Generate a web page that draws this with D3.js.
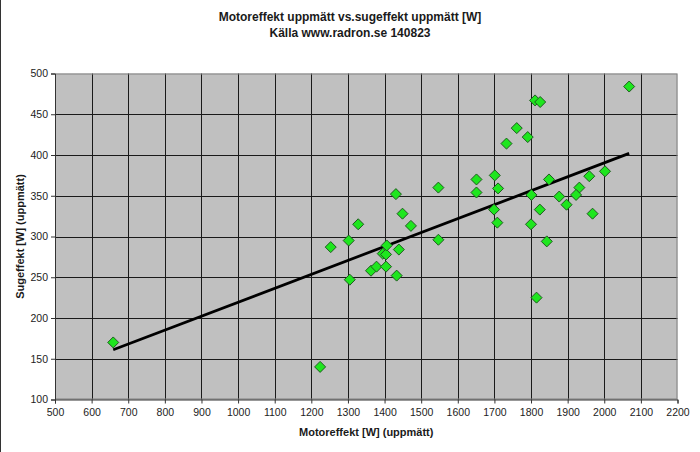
<!DOCTYPE html>
<html>
<head>
<meta charset="utf-8">
<script src="https://cdn.jsdelivr.net/npm/d3@7"></script>
<style>
	body { margin: 0; background: #fff; }
	text { font-family: "Liberation Sans", Arial, sans-serif; }
	.chart-title { font-size: 12px; font-weight: bold; fill: #1a1a1a; }
	.axis-title { font-size: 11px; font-weight: bold; fill: #1a1a1a; }
	.tick-label { font-size: 10.5px; fill: #222; }
</style>
</head>
<body>
<svg id="chart" width="700" height="452"></svg>
<script>

//Motor power measured [W]
var motorW = [659, 1224, 1253, 1302, 1328, 1305, 1363, 1378, 1404, 1433, 1395, 1404, 1406, 1439,
	1449, 1472, 1431, 1547, 1547, 1651, 1651, 1811, 1825, 2068, 1761, 1733, 1791, 2002, 1959,
	1849, 1701, 1932, 1710, 1801, 1877, 1923, 1897, 1968, 1699, 1708, 1824, 1800, 1843, 1815];
//Suction power measured [W]
var sugW = [170, 140, 287, 295, 315, 247, 258, 263, 263, 252, 279, 278, 289, 284,
	328, 313, 352, 360, 296, 370, 354, 467, 465, 484, 433, 414, 422, 380, 374,
	370, 375, 360, 359, 351, 349, 351, 339, 328, 333, 317, 333, 315, 294, 225];

//Trend line end points
var trendX = [659, 2068],
	trendY = [161, 402];

var xTicks = d3.range(500, 2201, 100),
	yTicks = d3.range(100, 501, 50);

var svg = d3.select("#chart");

var plotLeft = 55, plotRight = 677.5, plotTop = 73.5, plotBottom = 399.5;

var x = d3.scaleLinear().domain([500, 2200]).range([plotLeft, plotRight]);
var y = d3.scaleLinear().domain([100, 500]).range([plotBottom, plotTop]);

//Outer frame line at the left edge
svg.append("line")
	.attr("x1", 0.5).attr("x2", 0.5)
	.attr("y1", 0).attr("y2", 452)
	.style("stroke", "#333");

/////////////////////// Titles //////////////////////////

svg.append("text")
	.attr("class", "chart-title")
	.attr("x", 350)
	.attr("y", 21)
	.style("text-anchor", "middle")
	.text("Motoreffekt uppmätt vs.sugeffekt uppmätt [W]");
svg.append("text")
	.attr("class", "chart-title")
	.attr("x", 350)
	.attr("y", 37)
	.style("text-anchor", "middle")
	.text("Källa www.radron.se 140823");

/////////////////////// Plot area //////////////////////////

svg.append("rect")
	.attr("x", plotLeft)
	.attr("y", plotTop)
	.attr("width", plotRight - plotLeft)
	.attr("height", plotBottom - plotTop)
	.style("fill", "#c0c0c0");

var grid = svg.append("g").attr("class", "grid");
grid.selectAll(".vgrid")
	.data(xTicks.slice(1, -1))
	.enter().append("line")
	.attr("x1", function(d) { return Math.round(x(d)) + 0.5; })
	.attr("x2", function(d) { return Math.round(x(d)) + 0.5; })
	.attr("y1", plotTop)
	.attr("y2", plotBottom)
	.style("stroke", "#1a1a1a");
grid.selectAll(".hgrid")
	.data(yTicks.slice(1, -1))
	.enter().append("line")
	.attr("x1", plotLeft)
	.attr("x2", plotRight)
	.attr("y1", function(d) { return Math.round(y(d)) + 0.5; })
	.attr("y2", function(d) { return Math.round(y(d)) + 0.5; })
	.style("stroke", "#1a1a1a");

svg.append("rect")
	.attr("x", plotLeft + 0.5)
	.attr("y", plotTop + 0.5)
	.attr("width", plotRight - plotLeft - 1)
	.attr("height", plotBottom - plotTop - 1)
	.style("fill", "none")
	.style("stroke", "#808080");

/////////////////////// Axes //////////////////////////

var xAxis = svg.append("g")
	.attr("transform", "translate(0," + plotBottom + ")")
	.call(d3.axisBottom(x).tickValues(xTicks).tickFormat(d3.format("d")).tickSize(4).tickPadding(5));
var yAxis = svg.append("g")
	.attr("transform", "translate(" + plotLeft + ",0)")
	.call(d3.axisLeft(y).tickValues(yTicks).tickFormat(d3.format("d")).tickSize(4).tickPadding(3));

[xAxis, yAxis].forEach(function(a) {
	a.attr("font-family", null).attr("font-size", null);
	a.select(".domain").style("stroke", "#333");
	a.selectAll(".tick line").style("stroke", "#333");
	a.selectAll(".tick text").attr("class", "tick-label");
});

svg.append("text")
	.attr("class", "axis-title")
	.attr("x", (plotLeft + plotRight) / 2)
	.attr("y", 436)
	.style("text-anchor", "middle")
	.text("Motoreffekt [W] (uppmätt)");
svg.append("text")
	.attr("class", "axis-title")
	.attr("transform", "translate(24," + ((plotTop + plotBottom) / 2) + ") rotate(-90)")
	.style("text-anchor", "middle")
	.text("Sugeffekt [W] (uppmätt)");

/////////////////////// Trend line //////////////////////////

svg.append("line")
	.attr("x1", x(trendX[0])).attr("y1", y(trendY[0]))
	.attr("x2", x(trendX[1])).attr("y2", y(trendY[1]))
	.style("stroke", "#000")
	.style("stroke-width", 2.75);

/////////////////////// Points //////////////////////////

var diamond = "M0,-5.5L5.5,0L0,5.5L-5.5,0Z";
svg.append("g").selectAll(".point")
	.data(motorW)
	.enter().append("path")
	.attr("class", "point")
	.attr("transform", function(d, i) { return "translate(" + x(d) + "," + y(sugW[i]) + ")"; })
	.attr("d", diamond)
	.style("fill", "#1ee61e")
	.style("stroke", "#1f5a1f")
	.style("stroke-width", 1);

</script>
</body>
</html>
